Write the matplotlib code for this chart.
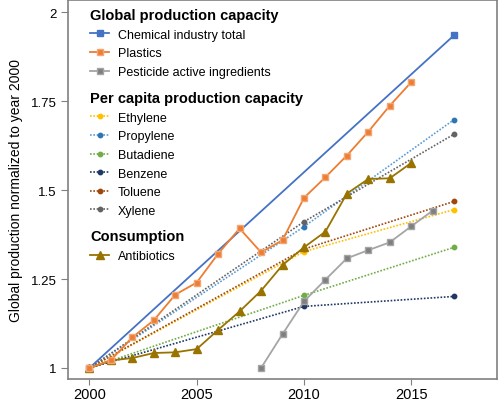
import numpy as np
import matplotlib.pyplot as plt
from matplotlib.lines import Line2D

plt.rcParams['font.family'] = ['Liberation Sans', 'DejaVu Sans']

# Data (normalized to 2000)
chem_years = [2000, 2017]
chem_vals = [1.0, 1.935]

plastic_years = list(range(2000, 2016))
plastic_vals = [1.0, 1.022, 1.086, 1.134, 1.206, 1.240, 1.321, 1.392, 1.325,
                1.359, 1.478, 1.536, 1.597, 1.664, 1.737, 1.803]

pest_years = list(range(2008, 2017))
pest_vals = [1.0, 1.095, 1.187, 1.248, 1.308, 1.331, 1.353, 1.398, 1.442]

percap_years = [2000, 2010, 2017]
ethylene = [1.0, 1.327, 1.445]
propylene = [1.0, 1.397, 1.698]
butadiene = [1.0, 1.204, 1.339]
benzene = [1.0, 1.173, 1.201]
toluene = [1.0, 1.334, 1.468]
xylene = [1.0, 1.411, 1.657]

anti_years = list(range(2000, 2016))
anti_vals = [1.0, 1.021, 1.028, 1.042, 1.044, 1.053, 1.107, 1.159, 1.217,
             1.289, 1.339, 1.383, 1.490, 1.531, 1.533, 1.576]

# Figure
fig = plt.figure(figsize=(5.0, 4.02), dpi=100)
ax = fig.add_axes([68 / 500, 22 / 402, 429 / 500, 379 / 402])

dotted = [
    ('Ethylene', ethylene, '#FFC000', '#FFC000'),
    ('Propylene', propylene, '#5B9BD5', '#2E75B6'),
    ('Butadiene', butadiene, '#70AD47', '#70AD47'),
    ('Benzene', benzene, '#203864', '#203864'),
    ('Toluene', toluene, '#9E480E', '#9E480E'),
    ('Xylene', xylene, '#636363', '#636363'),
]
dot_handles = []
for name, vals, lc, mc in dotted:
    h, = ax.plot(percap_years, vals, linestyle=(0, (1, 1)), lw=1.2, color=lc,
                 marker='o', ms=3.2, mfc=mc, mec=mc, label=name, zorder=2)
    dot_handles.append(h)

h_chem, = ax.plot(chem_years, chem_vals, '-', color='#4472C4', lw=1.3,
                  marker='s', ms=5, mec='#4472C4', label='Chemical industry total', zorder=3)
h_pest, = ax.plot(pest_years, pest_vals, '-', color='#A5A5A5', lw=1.3,
                  marker='s', ms=5, mfc='#7F7F7F', mec='#A5A5A5',
                  label='Pesticide active ingredients', zorder=4)
h_anti, = ax.plot(anti_years, anti_vals, '-', color='#997300', lw=1.3,
                  marker='^', ms=5.5, mec='#997300', label='Antibiotics', zorder=5)
h_plast, = ax.plot(plastic_years, plastic_vals, '-', color='#ED7D31', lw=1.3,
                   marker='s', ms=5, mec='#F4A574', label='Plastics', zorder=6)

ax.set_xlim(1999, 2019)
ax.set_ylim(0.969, 2.034)
ax.set_xticks([2000, 2005, 2010, 2015])
ax.set_yticks([1, 1.25, 1.5, 1.75, 2])
ax.set_yticklabels(['1', '1.25', '1.5', '1.75', '2'])
ax.tick_params(axis='x', labelsize=10.5, length=4, color='#808080', pad=2)
ax.tick_params(axis='y', labelsize=9.5, length=5, color='#808080', pad=3)
for s in ax.spines.values():
    s.set_color('#808080')
    s.set_linewidth(1.2)
ax.set_ylabel('Global production normalized to year 2000', fontsize=10, labelpad=6)

# Legends
common = dict(loc='upper left', frameon=False, fontsize=9, handlelength=1.5,
              handletextpad=0.7, borderaxespad=0, alignment='left',
              title_fontproperties={'weight': 'bold', 'size': 10.5}, labelspacing=0.53)
leg1 = ax.legend(handles=[h_chem, h_plast, h_pest], title='Global production capacity',
                 bbox_to_anchor=(0.04, 0.992), **common)
ax.add_artist(leg1)
leg2 = ax.legend(handles=dot_handles, title='Per capita production capacity',
                 bbox_to_anchor=(0.04, 0.773), **common)
ax.add_artist(leg2)
leg3 = ax.legend(handles=[h_anti], title='Consumption',
                 bbox_to_anchor=(0.04, 0.408), **common)

plt.savefig('out.png', dpi=100)
